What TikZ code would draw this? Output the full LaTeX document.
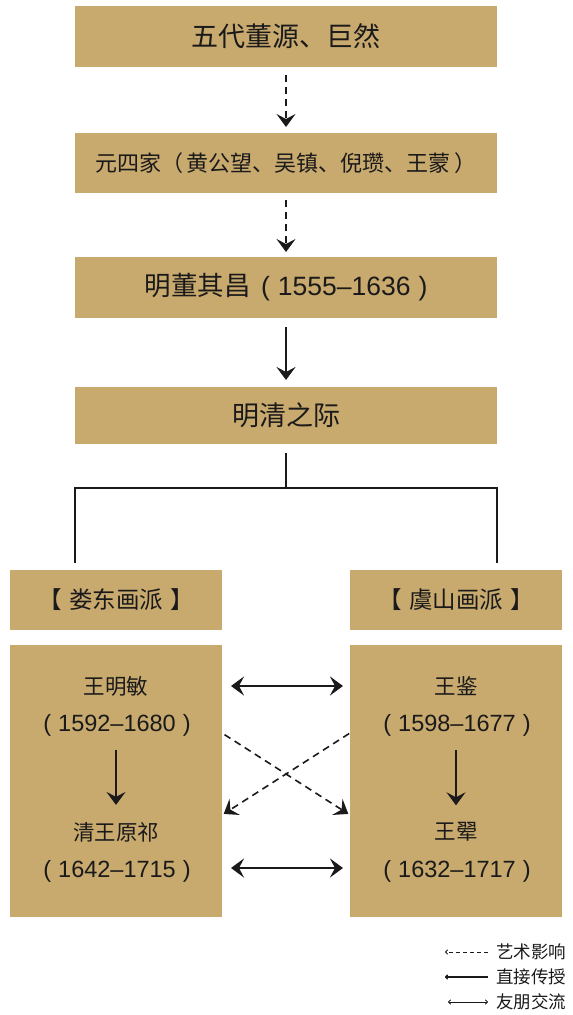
\documentclass[tikz,border=0pt]{standalone}
\usepackage{fontspec}
\setmainfont{Noto Sans CJK SC}
\newfontfamily\latin{Liberation Sans}
\usepackage{xcolor}
\usepackage{tikz}
\usetikzlibrary{arrows.meta}
\definecolor{tan}{HTML}{C8A96E}
\definecolor{ink}{HTML}{1A1A1A}
\newcommand{\years}[1]{{\latin(\hspace{0.3em}#1\hspace{0.3em})}}

\begin{document}
\begin{tikzpicture}[x=1pt, y=-1pt,
    band/.style={fill=tan, draw=none, inner sep=0pt, outer sep=0pt, text=ink, minimum width=422pt},
    school/.style={fill=tan, draw=none, inner sep=0pt, outer sep=0pt, text=ink, minimum width=212pt},
    who/.style={inner sep=0pt, text=ink, font=\fontsize{21.5}{24}\selectfont},
    when/.style={inner sep=0pt, text=ink, font=\fontsize{23.5}{26}\selectfont},
    influence/.style={-{Stealth[length=13pt,width=19pt,inset=5pt]}, line width=1.6pt, dash pattern=on 7pt off 5pt, draw=ink},
    teach/.style={-{Stealth[length=13pt,width=19pt,inset=5pt]}, line width=2pt, draw=ink},
    friend/.style={{Stealth[length=13pt,width=19pt,inset=5pt]}-{Stealth[length=13pt,width=19pt,inset=5pt]}, line width=2pt, draw=ink},
    tie/.style={line width=2pt, draw=ink},
    legline/.style={line width=1pt, draw=ink},
    legtext/.style={anchor=west, inner sep=0pt, text=ink, font=\fontsize{17.5}{20}\selectfont}]
    \useasboundingbox (0,0) rectangle (573,1015);
    \node[band, minimum height=61pt, font=\fontsize{27}{30}\selectfont] (wudai) at (286,36.5) {五代董源、巨然};
    \node[band, minimum height=60pt, font=\fontsize{22}{24}\selectfont] (yuan) at (286,163) {元四家（\hspace{0.15em}黄公望、吴镇、倪瓒、王蒙\hspace{0.15em}）};
    \node[band, minimum height=61pt, font=\fontsize{26.5}{30}\selectfont] (dong) at (286,287.5) {明董其昌\hspace{0.4em}\years{1555–1636}};
    \node[band, minimum height=57pt, font=\fontsize{27}{30}\selectfont] (bridge) at (286,415.5) {明清之际};
    \draw[influence, shorten <=8pt, shorten >=6pt] (wudai.south) -- (yuan.north);
    \draw[influence, shorten <=7pt, shorten >=5pt] (yuan.south) -- (dong.north);
    \draw[teach, shorten <=9pt, shorten >=7pt] (dong.south) -- (bridge.north);
    \node[school, minimum height=60pt, font=\fontsize{23.5}{27}\selectfont] (lou) at (116,600) {【\hspace{0.3em}娄东画派\hspace{0.3em}】};
    \node[school, minimum height=60pt, font=\fontsize{23.5}{27}\selectfont] (yu) at (456,600) {【\hspace{0.3em}虞山画派\hspace{0.3em}】};
    \coordinate (fork) at (286,488);
    \draw[tie] ([yshift=-9pt]bridge.south) -- (fork);
    \draw[tie, shorten <=7pt, shorten >=7pt] (bridge.west |- lou.north) |- (fork) -| (bridge.east |- yu.north);
    \node[school, minimum height=272pt] (lbox) at (116,781) {};
    \node[school, minimum height=272pt] (rbox) at (456,781) {};
    \node[who] (wsm) at (116,686) {王明敏};
    \node[when] (wsmdate) at (117,725) {\years{1592–1680}};
    \node[who] (wyq) at (116,832) {清王原祁};
    \node[when] (wyqdate) at (117,871) {\years{1642–1715}};
    \node[who] (wj) at (456,686) {王鉴};
    \node[when] (wjdate) at (457,725) {\years{1598–1677}};
    \node[who] (wh) at (456,832) {王翚};
    \node[when] (whdate) at (457,871) {\years{1632–1717}};
    \draw[teach, shorten <=14pt, shorten >=17pt] (wsmdate.south -| wsm) -- (wyq.north -| wsm);
    \draw[teach, shorten <=14pt, shorten >=17pt] (wjdate.south -| wj) -- (wh.north -| wj);
    \draw[friend, shorten <=9pt, shorten >=7pt] (wsm -| lbox.east) -- (wj -| rbox.west);
    \draw[friend, shorten <=9pt, shorten >=7pt] ([yshift=3pt]wyqdate -| lbox.east) -- ([yshift=3pt]whdate -| rbox.west);
    \draw[influence, shorten <=3pt, shorten >=2pt] ([yshift=-8pt]wsmdate -| lbox.east) -- ([yshift=-90pt]wsmdate -| rbox.west);
    \draw[influence, shorten <=1pt, shorten >=2pt] ([yshift=-8pt]wjdate -| rbox.west) -- ([yshift=-90pt]wjdate -| lbox.east);
    \node[legtext] (legA) at (496,952) {艺术影响};
    \node[legtext] (legB) at (496,977) {直接传授};
    \node[legtext] (legC) at (496,1002) {友朋交流};
    \draw[legline, dash pattern=on 4pt off 3pt, -{To[length=3pt,width=5pt]}] ([xshift=-8pt]legA.west) -- ([xshift=-51pt]legA.west);
    \draw[legline, line width=1.4pt, -{To[length=3pt,width=5pt]}] ([xshift=-8pt]legB.west) -- ([xshift=-51pt]legB.west);
    \draw[legline, {To[length=3pt,width=5pt]}-{To[length=3pt,width=5pt]}] ([xshift=-48pt]legC.west) -- ([xshift=-8pt]legC.west);
\end{tikzpicture}
\end{document}
